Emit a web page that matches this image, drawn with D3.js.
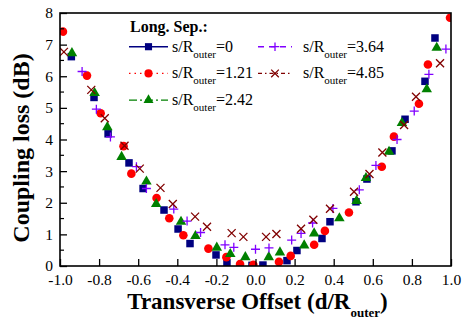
<!DOCTYPE html>
<html>
<head>
<meta charset="utf-8">
<script src="https://cdn.jsdelivr.net/npm/d3@7"></script>
<style>
  html, body { margin: 0; padding: 0; background: #fff; }
  svg, svg text { font-family: "Liberation Serif", "Times New Roman", Tinos, "DejaVu Serif", serif !important; }
</style>
</head>
<body>
<svg id="chart" width="463" height="320"></svg>
<script>
// Coupling loss vs. transverse offset, for several longitudinal separations
const xTicks = [-1.0, -0.8, -0.6, -0.4, -0.2, 0.0, 0.2, 0.4, 0.6, 0.8, 1.0];
const yTicks = [0, 1, 2, 3, 4, 5, 6, 7, 8];
const yMinorTicks = [0.5, 1.5, 2.5, 3.5, 4.5, 5.5, 6.5, 7.5];

const seriesNames = ["0", "1.21", "2.42", "3.64", "4.85"];

const offsetSep0 = [-0.942, -0.826, -0.754, -0.647, -0.575, -0.468, -0.396, -0.335, -0.202, -0.146, -0.018, 0.038, 0.161, 0.212, 0.340, 0.381, 0.514, 0.570, 0.698, 0.765, 0.867, 0.918];
const lossSep0   = [6.62, 5.33, 4.18, 3.26, 2.45, 1.77, 1.17, 0.71, 0.35, 0.10, 0.02, 0.03, 0.17, 0.49, 0.87, 1.40, 2.03, 2.75, 3.64, 4.64, 5.84, 7.21];

const offsetSep121 = [-0.985, -0.862, -0.792, -0.675, -0.635, -0.506, -0.441, -0.369, -0.241, -0.149, -0.079, -0.011, 0.120, 0.180, 0.300, 0.355, 0.478, 0.646, 0.708, 0.836, 0.882, 0.995];
const lossSep121   = [7.41, 6.02, 4.83, 3.79, 2.92, 2.15, 1.51, 0.97, 0.55, 0.28, 0.06, 0.04, 0.13, 0.32, 0.67, 1.11, 1.69, 3.14, 4.09, 5.13, 6.37, 7.85];

const offsetSep242 = [-0.939, -0.823, -0.758, -0.685, -0.558, -0.508, -0.381, -0.307, -0.198, -0.129, -0.052, 0.068, 0.125, 0.249, 0.300, 0.429, 0.517, 0.565, 0.683, 0.749, 0.876, 0.927];
const lossSep242   = [6.73, 5.47, 4.39, 3.45, 2.67, 1.96, 1.40, 0.95, 0.58, 0.38, 0.28, 0.28, 0.43, 0.65, 1.03, 1.51, 2.06, 2.78, 3.61, 4.52, 5.59, 6.90];

const offsetSep364 = [-0.887, -0.814, -0.742, -0.609, -0.558, -0.418, -0.350, -0.281, -0.156, -0.111, 0.000, 0.069, 0.185, 0.233, 0.292, 0.396, 0.531, 0.616, 0.724, 0.812, 0.887, 0.974];
const lossSep364   = [6.15, 4.96, 4.08, 3.14, 2.45, 1.80, 1.42, 1.06, 0.67, 0.59, 0.53, 0.57, 0.82, 1.03, 1.36, 1.82, 2.41, 3.18, 4.00, 4.90, 6.06, 6.86];

const offsetSep485 = [-0.980, -0.840, -0.771, -0.670, -0.592, -0.486, -0.423, -0.309, -0.248, -0.122, -0.062, 0.054, 0.107, 0.233, 0.296, 0.381, 0.504, 0.583, 0.649, 0.760, 0.821, 0.944];
const lossSep485   = [6.77, 5.57, 4.67, 3.80, 3.08, 2.47, 1.96, 1.56, 1.24, 1.04, 0.92, 0.92, 1.01, 1.18, 1.46, 1.81, 2.35, 2.91, 3.59, 4.46, 5.35, 6.41];

const seriesColors = ["#000080", "#ff0000", "#008000", "#8000ff", "#800000"];
const seriesDashes = [null, "1.5,4", "8,3,2,3", "6,5", "4,3,1.5,3"];
const seriesMarkers = ["square", "circle", "triangle", "plus", "cross"];

const series = [
  { xs: offsetSep0,   ys: lossSep0 },
  { xs: offsetSep121, ys: lossSep121 },
  { xs: offsetSep242, ys: lossSep242 },
  { xs: offsetSep364, ys: lossSep364 },
  { xs: offsetSep485, ys: lossSep485 }
].map((s, i) => ({
  ...s, name: seriesNames[i], color: seriesColors[i],
  dash: seriesDashes[i], marker: seriesMarkers[i]
}));

// least-squares polynomial trend line through each series
function polyFit(xs, ys, deg) {
  const n = deg + 1;
  const A = Array.from({ length: n }, () => new Array(n + 1).fill(0));
  xs.forEach((x, k) => {
    for (let r = 0; r < n; r++) {
      for (let c = 0; c < n; c++) A[r][c] += Math.pow(x, r + c);
      A[r][n] += ys[k] * Math.pow(x, r);
    }
  });
  for (let i = 0; i < n; i++) {
    let p = i;
    for (let r = i + 1; r < n; r++) if (Math.abs(A[r][i]) > Math.abs(A[p][i])) p = r;
    [A[i], A[p]] = [A[p], A[i]];
    for (let r = 0; r < n; r++) {
      if (r === i) continue;
      const f = A[r][i] / A[i][i];
      for (let c = i; c <= n; c++) A[r][c] -= f * A[i][c];
    }
  }
  const coef = A.map((row, i) => row[n] / row[i][i]);
  return x => coef.reduce((s, c, i) => s + c * Math.pow(x, i), 0);
}

const FONT = '"Liberation Serif", "Times New Roman", Tinos, "DejaVu Serif", serif';
const svg = d3.select("#chart");
const margin = { left: 60, right: 12, top: 13, bottom: 54 };
const W = 463, H = 320;
const x = d3.scaleLinear().domain([-1, 1]).range([margin.left, W - margin.right]);
const y = d3.scaleLinear().domain([0, 8]).range([H - margin.bottom, margin.top]);

svg.append("defs").append("clipPath").attr("id", "plot-clip")
  .append("rect")
  .attr("x", x(-1)).attr("y", y(8))
  .attr("width", x(1) - x(-1)).attr("height", y(0) - y(8));

function drawMarker(g, type, color, cx, cy, scale = 1) {
  if (type === "square") {
    const s = 7.5 * scale;
    g.append("rect").attr("x", cx - s / 2).attr("y", cy - s / 2)
      .attr("width", s).attr("height", s).attr("fill", color);
  } else if (type === "circle") {
    g.append("circle").attr("cx", cx).attr("cy", cy).attr("r", 4.3 * scale).attr("fill", color);
  } else if (type === "triangle") {
    g.append("path").attr("transform", `translate(${cx},${cy})`)
      .attr("d", d3.symbol(d3.symbolTriangle, 48 * scale * scale)()).attr("fill", color);
  } else if (type === "plus") {
    const r = 4.5 * scale;
    g.append("path").attr("d", `M${cx - r},${cy}H${cx + r}M${cx},${cy - r}V${cy + r}`)
      .attr("stroke", color).attr("stroke-width", 1.3).attr("fill", "none");
  } else if (type === "cross") {
    const r = 4 * scale;
    g.append("path").attr("d", `M${cx - r},${cy - r}L${cx + r},${cy + r}M${cx - r},${cy + r}L${cx + r},${cy - r}`)
      .attr("stroke", color).attr("stroke-width", 1.3).attr("fill", "none");
  }
}

// trend lines
const plot = svg.append("g").attr("clip-path", "url(#plot-clip)");
const grid = d3.range(-1, 1.0001, 0.01);
series.forEach(s => {
  const f = polyFit(s.xs, s.ys, 4);
  const line = d3.line().x(d => x(d)).y(d => y(f(d)));
  plot.append("path").attr("d", line(grid))
    .attr("fill", "none").attr("stroke", s.color).attr("stroke-width", 1.4)
    .attr("stroke-dasharray", s.dash);
});

// data markers
series.forEach(s => {
  const g = plot.append("g");
  s.xs.forEach((xv, i) => drawMarker(g, s.marker, s.color, x(xv), y(s.ys[i])));
});

// frame
svg.append("rect")
  .attr("x", x(-1)).attr("y", y(8))
  .attr("width", x(1) - x(-1)).attr("height", y(0) - y(8))
  .attr("fill", "none").attr("stroke", "#000").attr("stroke-width", 1.6);

// axes with inward ticks
const xAxis = d3.axisBottom(x).tickValues(xTicks).tickSize(-7).tickPadding(8)
  .tickFormat(d => d3.format(".1f")(d).replace("\u2212", "-"));
const gx = svg.append("g").attr("transform", `translate(0,${y(0)})`).call(xAxis)
  .attr("font-family", FONT).attr("font-size", 15.5);
gx.select(".domain").remove();
gx.selectAll("line").attr("stroke-width", 1.3);
gx.selectAll("text").attr("fill", "#000");

const yAxis = d3.axisLeft(y).tickValues(yTicks).tickSize(-7).tickPadding(7).tickFormat(d3.format("d"));
const gy = svg.append("g").attr("transform", `translate(${x(-1)},0)`).call(yAxis)
  .attr("font-family", FONT).attr("font-size", 15.5);
gy.select(".domain").remove();
gy.selectAll("line").attr("stroke-width", 1.3);
gy.selectAll("text").attr("fill", "#000");

svg.append("g").selectAll("line").data(yMinorTicks).join("line")
  .attr("x1", x(-1)).attr("x2", x(-1) + 4)
  .attr("y1", d => y(d)).attr("y2", d => y(d))
  .attr("stroke", "#000").attr("stroke-width", 1.2);

// axis titles
svg.append("text")
  .attr("transform", "translate(29,148) rotate(-90)")
  .attr("text-anchor", "middle").attr("font-weight", "bold").attr("font-size", 24)
  .text("Coupling loss (dB)");

const xt = svg.append("text")
  .attr("x", (x(-1) + x(1)) / 2 + 2).attr("y", 309)
  .attr("text-anchor", "middle").attr("font-weight", "bold").attr("font-size", 23);
xt.append("tspan").text("Transverse Offset (d/R");
xt.append("tspan").attr("font-size", 13).attr("dy", 8).text("outer");
xt.append("tspan").attr("dy", -8).text(")");

// legend
const leg = svg.append("g");
leg.append("text").attr("x", 130).attr("y", 31.5)
  .attr("font-weight", "bold").attr("font-size", 16).text("Long. Sep.:");
const legPos = [
  { x0: 129, row: 0 }, { x0: 129, row: 1 }, { x0: 129, row: 2 },
  { x0: 258, row: 0 }, { x0: 258, row: 1 }
];
series.forEach((s, i) => {
  const p = legPos[i];
  const base = 51.7 + p.row * 26.7;
  const cy = base - 5;
  const len = i < 3 ? 39 : 34;
  leg.append("line").attr("x1", p.x0).attr("x2", p.x0 + len)
    .attr("y1", cy).attr("y2", cy)
    .attr("stroke", s.color).attr("stroke-width", 1.4).attr("stroke-dasharray", s.dash);
  drawMarker(leg, s.marker, s.color, p.x0 + len / 2, cy, 0.95);
  const t = leg.append("text").attr("x", p.x0 + len + (i < 3 ? 4 : 11)).attr("y", base).attr("font-size", 16);
  t.append("tspan").text("s/R");
  t.append("tspan").attr("font-size", 11).attr("dy", 6).text("outer");
  t.append("tspan").attr("dy", -6).text("=" + s.name);
});
</script>
</body>
</html>
